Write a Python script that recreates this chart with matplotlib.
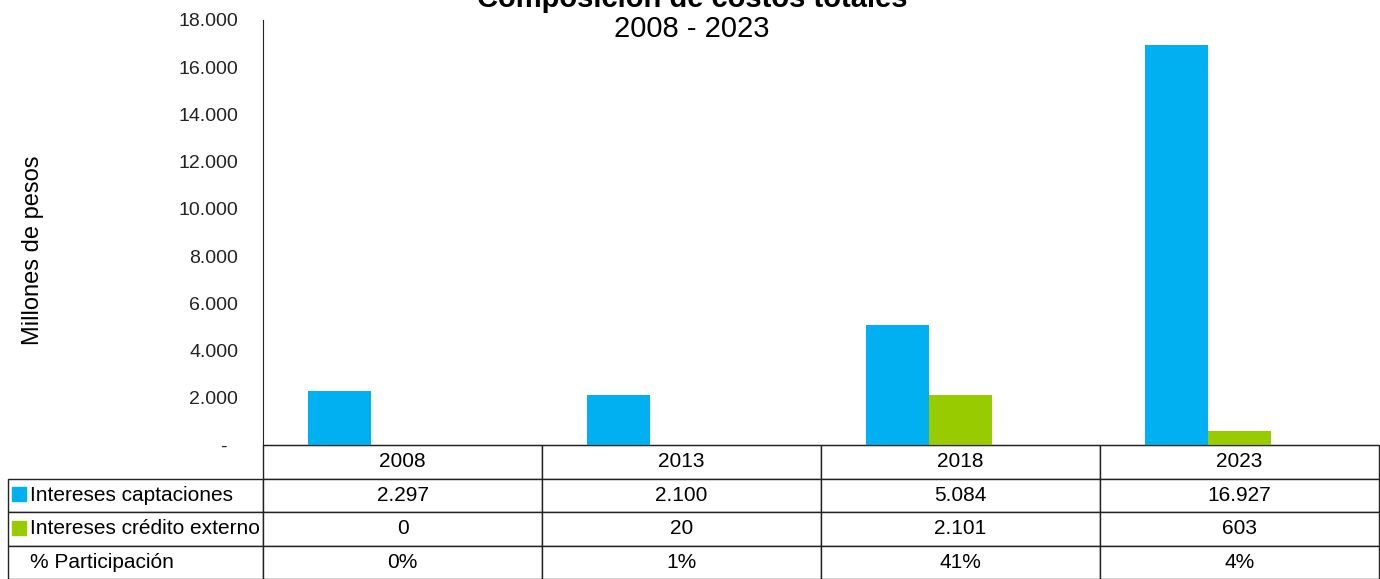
import numpy as np
import matplotlib
matplotlib.use("Agg")
import matplotlib.pyplot as plt
from matplotlib.patches import Rectangle

plt.rcParams['font.family'] = ['Liberation Sans', 'DejaVu Sans']

years = ['2008', '2013', '2018', '2023']
captaciones = [2297, 2100, 5084, 16927]
credito_externo = [0, 20, 2101, 603]
participacion = ['0%', '1%', '41%', '4%']

series_names = ['Intereses captaciones', 'Intereses crédito externo', '% Participación']
colors = ['#00B0F0', '#99CC00']
y_ticks = [0, 2000, 4000, 6000, 8000, 10000, 12000, 14000, 16000, 18000]


def miles(v):
    if v == 0:
        return '-  '
    return f'{v:,.0f}'.replace(',', '.')


W, H = 1380, 579
fig = plt.figure(figsize=(W / 100, H / 100), dpi=100)
ax = fig.add_axes([263 / W, 1 - 445 / H, 1116 / W, 425 / H])

x = np.arange(len(years))
bw = 0.226  # tres series por grupo, la de % no se ve
ax.bar(x - bw, captaciones, width=bw, color=colors[0])
ax.bar(x, credito_externo, width=bw, color=colors[1])

ax.set_xlim(-0.5, len(years) - 0.5)
ax.set_ylim(0, 18000)
ax.set_yticks(y_ticks)
ax.set_yticklabels([miles(v) for v in y_ticks], fontsize=14, color='#222222')
ax.tick_params(axis='y', length=0, pad=18)
ax.set_xticks([])
for s in ['top', 'right']:
    ax.spines[s].set_visible(False)
ax.spines['left'].set_color('#222222')
ax.spines['bottom'].set_color('#222222')

fig.text(33 / W, 1 - 250 / H, 'Millones de pesos', rotation=90,
         ha='center', va='center', fontsize=17)

# tabla de datos
rows = [
    [series_names[0]] + [miles(v) if v else '0' for v in captaciones],
    [series_names[1]] + [miles(v) if v else '0' for v in credito_externo],
    [series_names[2]] + participacion,
]
col_w = [255] + [279] * 4
tab = ax.table(cellText=rows, colLabels=[''] + years,
               colWidths=[c / sum(col_w) for c in col_w],
               cellLoc='center',
               bbox=[-255 / 1116, -134 / 425, 1371 / 1116, 134 / 425])
tab.auto_set_font_size(False)
tab.set_fontsize(15)
for (r, c), cell in tab.get_celld().items():
    cell.set_edgecolor('#222222')
    cell.set_linewidth(1)
    if r == 0 and c == 0:
        cell.visible_edges = 'open'
    if c == 0 and r > 0:
        cell._loc = 'left'
        cell.PAD = 22 / 255
        cell.get_text().set_horizontalalignment('left')

# cuadros de leyenda en la tabla
fig.add_artist(Rectangle((12 / W, 1 - 501 / H), 14 / W, 14 / H,
                         transform=fig.transFigure, color=colors[0]))
fig.add_artist(Rectangle((12 / W, 1 - 535 / H), 14 / W, 14 / H,
                         transform=fig.transFigure, color=colors[1]))

fig.text(692 / W, 1 - 7 / H, 'Composición de costos totales', ha='center',
         va='baseline', fontsize=21, fontweight='bold')
fig.text(692 / W, 1 - 37 / H, '2008 - 2023', ha='center', va='baseline',
         fontsize=21)

fig.savefig('out.png', dpi=100)
